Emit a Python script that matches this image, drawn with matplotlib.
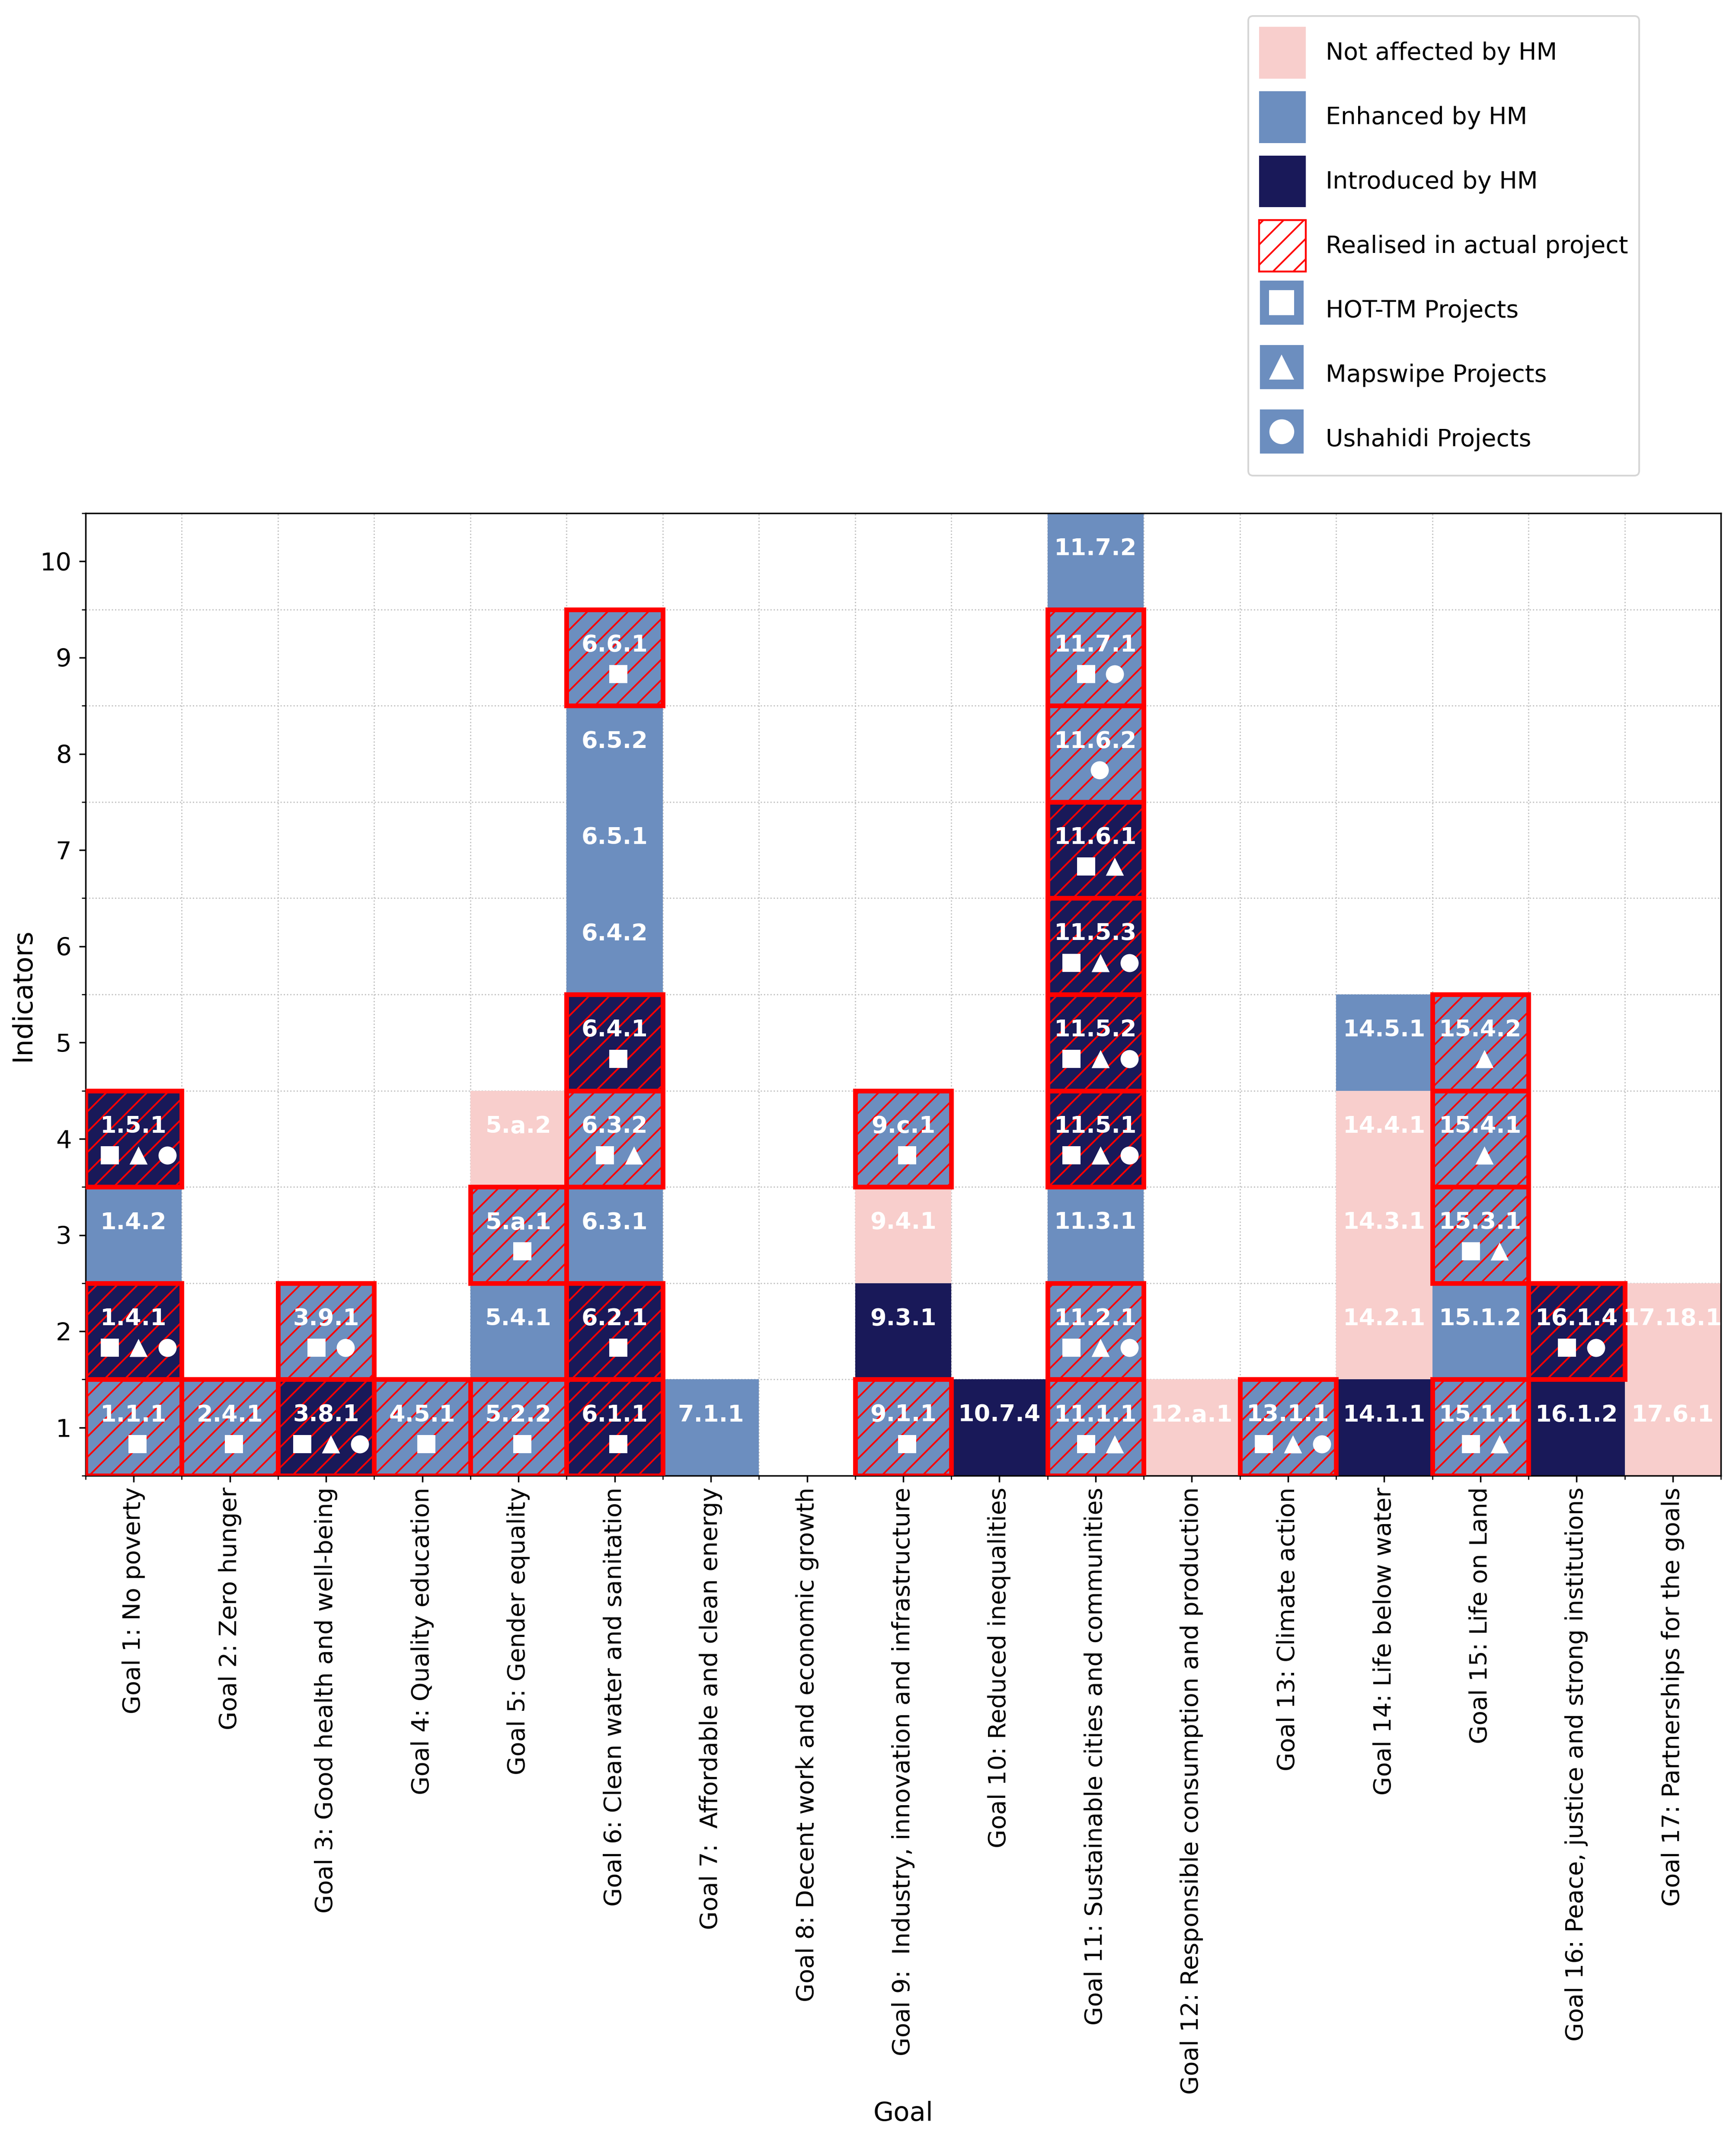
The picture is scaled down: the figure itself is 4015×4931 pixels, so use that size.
import matplotlib
matplotlib.use("Agg")
import matplotlib.pyplot as plt
from matplotlib.lines import Line2D
from matplotlib.patches import Patch, Rectangle
from matplotlib.legend_handler import HandlerBase
from matplotlib.ticker import FixedLocator

W, H = 4015, 4931
DPI = 282
PT = 313.67 / DPI  # 1 "100-dpi" point of the source at this dpi

goal_names = [
    "Goal 1: No poverty", "Goal 2: Zero hunger", "Goal 3: Good health and well-being",
    "Goal 4: Quality education", "Goal 5: Gender equality", "Goal 6: Clean water and sanitation",
    "Goal 7:  Affordable and clean energy", "Goal 8: Decent work and economic growth",
    "Goal 9:  Industry, innovation and infrastructure", "Goal 10: Reduced inequalities",
    "Goal 11: Sustainable cities and communities", "Goal 12: Responsible consumption and production",
    "Goal 13: Climate action", "Goal 14: Life below water", "Goal 15: Life on Land",
    "Goal 16: Peace, justice and strong institutions", "Goal 17: Partnerships for the goals",
]
goals = [1,1,1,1, 2, 3,3, 4, 5,5,5,5, 6,6,6,6,6,6,6,6,6, 7, 9,9,9,9, 10,
         11,11,11,11,11,11,11,11,11,11, 12, 13, 14,14,14,14,14, 15,15,15,15,15, 16,16, 17,17]
levels = [1,2,3,4, 1, 1,2, 1, 1,2,3,4, 1,2,3,4,5,6,7,8,9, 1, 1,2,3,4, 1,
          1,2,3,4,5,6,7,8,9,10, 1, 1, 1,2,3,4,5, 1,2,3,4,5, 1,2, 1,2]
codes = ["1.1.1","1.4.1","1.4.2","1.5.1","2.4.1","3.8.1","3.9.1","4.5.1",
         "5.2.2","5.4.1","5.a.1","5.a.2",
         "6.1.1","6.2.1","6.3.1","6.3.2","6.4.1","6.4.2","6.5.1","6.5.2","6.6.1","7.1.1",
         "9.1.1","9.3.1","9.4.1","9.c.1","10.7.4",
         "11.1.1","11.2.1","11.3.1","11.5.1","11.5.2","11.5.3","11.6.1","11.6.2","11.7.1","11.7.2",
         "12.a.1","13.1.1","14.1.1","14.2.1","14.3.1","14.4.1","14.5.1",
         "15.1.1","15.1.2","15.3.1","15.4.1","15.4.2","16.1.2","16.1.4","17.6.1","17.18.1"]
status = list("EIEI" "E" "IE" "E" "EEEN" "IIEEIEEEE" "E" "EINE" "I"
              "EEEIIIIEEE" "N" "E" "INNNE" "EEEEE" "II" "NN")
realised = [1,1,0,1, 1, 1,1, 1, 1,0,1,0, 1,1,0,1,1,0,0,0,1, 0, 1,0,0,1, 0,
            1,1,0,1,1,1,1,1,1,0, 0, 1, 0,0,0,0,0, 1,0,1,1,1, 0,1, 0,0]
projects = ["s","stc","","stc","s","stc","sc","s","s","","s","",
            "s","s","","st","s","","","","s","",
            "s","","","s","",
            "st","stc","","stc","stc","stc","st","c","sc","",
            "","stc","","","","","",
            "st","","st","t","t","","sc","",""]

legend_labels = ["Not affected by HM", "Enhanced by HM", "Introduced by HM", "Realised in actual project",
                 "HOT-TM Projects", "Mapswipe Projects", "Ushahidi Projects"]

PINK, BLUE, NAVY = "#f8cecc", "#6c8ebf", "#191959"
colors = {"N": PINK, "E": BLUE, "I": NAVY}
marker_of = {"s": "s", "t": "^", "c": "o"}
offsets = {1: [0.04], 2: [-0.1, 0.2], 3: [-0.25, 0.05, 0.35]}

plt.rcParams["hatch.linewidth"] = 1.0
fig = plt.figure(figsize=(W / DPI, H / DPI), dpi=DPI)
L, R, T, B = 198, 3980, 1187, 3413
ax = fig.add_axes([L / W, 1 - B / H, (R - L) / W, (B - T) / H])

x = list(range(len(goal_names)))
for g, lv, st, re in zip(goals, levels, status, realised):
    if re:
        ax.bar(g - 1, 1, bottom=lv - 0.5, width=1, color=colors[st], edgecolor="red",
               hatch="//", linewidth=2.5 * PT, zorder=3)
    else:
        ax.bar(g - 1, 1, bottom=lv - 0.5, width=1, color=colors[st], linewidth=0, zorder=2)

for g, lv, code, prj in zip(goals, levels, codes, projects):
    ax.text(g - 1, lv + 0.13, code, color="white", fontweight="bold", fontsize=12.4 * PT,
            ha="center", va="center", zorder=5)
    for off, p in zip(offsets.get(len(prj), []), prj):
        ax.scatter(g - 1 + off, lv - 0.17, marker=marker_of[p], s=(9.6 * PT) ** 2,
                   color="white", linewidths=0, zorder=5)

ax.set_xlim(-0.5, len(goal_names) - 0.5)
ax.set_ylim(0.5, 10.5)
ax.set_xticks(x)
ax.set_xticklabels(goal_names, rotation=90, fontsize=12.8 * PT)
ax.set_yticks(range(1, 11))
ax.tick_params(axis="y", labelsize=13.2 * PT, width=0.8 * PT, length=3.5 * PT, pad=4 * PT)
ax.tick_params(axis="x", width=0.8 * PT, length=3.5 * PT, pad=2.6 * PT)
ax.xaxis.set_minor_locator(FixedLocator([i - 0.5 for i in range(len(goal_names) + 1)]))
ax.yaxis.set_minor_locator(FixedLocator([i + 0.5 for i in range(0, 11)]))
ax.tick_params(which="minor", width=0.6 * PT, length=2 * PT)
ax.grid(which="minor", linestyle=":", color="#c0c0c0", linewidth=0.65 * PT, zorder=0)
ax.set_axisbelow(True)
for s in ax.spines.values():
    s.set_linewidth(0.8 * PT)
ax.set_xlabel("Goal", fontsize=14 * PT)
ax.set_ylabel("Indicators", fontsize=14.3 * PT)
ax.xaxis.set_label_coords(0.5, (B - 4859) / (B - T))
ax.yaxis.set_label_coords((83 - L) / (R - L), 0.5)


class MarkerHandle:
    def __init__(self, marker):
        self.marker = marker


class MarkerHandler(HandlerBase):
    def create_artists(self, legend, orig, xd, yd, width, height, fontsize, trans):
        rect = Rectangle((-xd + 0.02 * width, -yd + 0.22 * height), 0.93 * width, 0.85 * height,
                         facecolor=BLUE, edgecolor="none", transform=trans)
        mark = Line2D([-xd + 0.48 * width], [-yd + 0.645 * height], marker=orig.marker, color="white",
                      markersize=13.2 * PT, linestyle="none", markeredgewidth=0, transform=trans)
        return [rect, mark]


handles = [Patch(facecolor=PINK), Patch(facecolor=BLUE), Patch(facecolor=NAVY),
           Patch(facecolor="white", edgecolor="red", hatch="//", linewidth=PT),
           MarkerHandle("s"), MarkerHandle("^"), MarkerHandle("o")]
leg = fig.legend(handles, legend_labels, handler_map={MarkerHandle: MarkerHandler()},
                 loc="upper left", bbox_to_anchor=(2887 / W, 1 - 37 / H), borderaxespad=0,
                 fontsize=12.7 * PT, handlelength=1.96, handleheight=2.95, labelspacing=0.53,
                 handletextpad=0.83, borderpad=0.45, framealpha=0.8)
fig.savefig("out.png", dpi=DPI)
